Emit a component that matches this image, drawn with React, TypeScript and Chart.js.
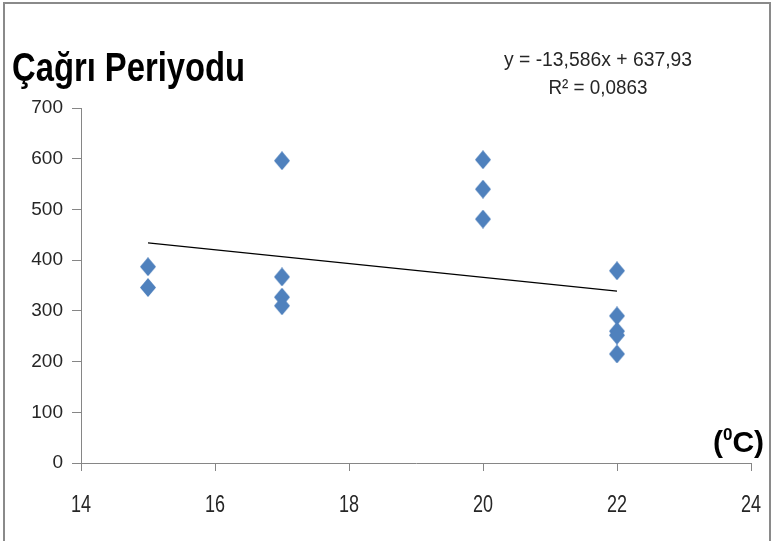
import React, { useEffect, useRef } from "react";
import { Chart, registerables } from "chart.js";

Chart.register(...registerables);

// Data
const temperatures = [15, 15, 17, 17, 17, 17, 20, 20, 20, 22, 22, 22, 22, 22];
const callPeriods = [387, 346, 596, 367, 327, 310, 598, 540, 481, 379, 290, 260, 252, 215];
const trendSlope = -13.586;
const trendIntercept = 637.93;
const trendRange = [15, 22];
const xTickValues = [14, 16, 18, 20, 22, 24];
const yTickValues = [0, 100, 200, 300, 400, 500, 600, 700];

const titleText = "Çağrı Periyodu";
const equationText = "y = -13,586x + 637,93";
const r2Text = "R² = 0,0863";

const FONT = '"Liberation Sans", "DejaVu Sans", sans-serif';
const MARKER_COLOR = "#4F81BD";

function drawFit(ctx: CanvasRenderingContext2D, text: string, x: number, y: number, width: number, align: "left" | "center" | "right") {
  const w = ctx.measureText(text).width;
  const sx = width / w;
  ctx.save();
  let left = x;
  if (align === "center") left = x - width / 2;
  if (align === "right") left = x - width;
  ctx.translate(left, y);
  ctx.scale(sx, 1);
  ctx.textAlign = "left";
  ctx.fillText(text, 0, 0);
  ctx.restore();
}

function makeDiamond(): HTMLCanvasElement {
  const c = document.createElement("canvas");
  const w = 16;
  const h = 19;
  c.width = w;
  c.height = h;
  const g = c.getContext("2d")!;
  g.fillStyle = MARKER_COLOR;
  g.beginPath();
  g.moveTo(w / 2, 0);
  g.lineTo(w, h / 2);
  g.lineTo(w / 2, h);
  g.lineTo(0, h / 2);
  g.closePath();
  g.fill();
  return c;
}

const extrasPlugin = {
  id: "extras",
  beforeDraw(chart: any) {
    const ctx = chart.ctx as CanvasRenderingContext2D;
    ctx.save();
    ctx.fillStyle = "#ffffff";
    ctx.fillRect(0, 0, chart.width, chart.height);
    ctx.strokeStyle = "#8a8a8a";
    ctx.lineWidth = 2;
    ctx.beginPath();
    ctx.moveTo(4, chart.height + 5);
    ctx.lineTo(4, 3);
    ctx.lineTo(770, 3);
    ctx.lineTo(770, chart.height + 5);
    ctx.stroke();
    ctx.restore();
  },
  afterDraw(chart: any) {
    const ctx = chart.ctx as CanvasRenderingContext2D;
    ctx.save();
    ctx.textBaseline = "alphabetic";
    // X tick labels (narrow, as in the reference)
    const xs = chart.scales.x;
    ctx.fillStyle = "#262626";
    ctx.font = `23px ${FONT}`;
    xTickValues.forEach((v) => {
      const px = xs.getPixelForValue(v);
      drawFit(ctx, String(v), px, chart.chartArea.bottom + 49, 20, "center");
    });
    // Title
    ctx.fillStyle = "#000000";
    ctx.font = `bold 40px ${FONT}`;
    drawFit(ctx, titleText, 12, 81, 233, "left");
    // Equation
    ctx.fillStyle = "#262626";
    ctx.font = `20px ${FONT}`;
    drawFit(ctx, equationText, 598, 66, 188, "center");
    drawFit(ctx, r2Text, 598, 94, 99, "center");
    // Unit label (⁰C)
    ctx.fillStyle = "#000000";
    ctx.font = `bold 30px ${FONT}`;
    const baseY = 452;
    let x = 713;
    ctx.textAlign = "left";
    ctx.fillText("(", x, baseY);
    x += ctx.measureText("(").width;
    ctx.font = `bold 17px ${FONT}`;
    ctx.fillText("0", x, baseY - 12);
    x += ctx.measureText("0").width;
    ctx.font = `bold 30px ${FONT}`;
    ctx.fillText("C)", x, baseY);
    ctx.restore();
  },
};

export default function App() {
  const canvasRef = useRef<HTMLCanvasElement | null>(null);

  useEffect(() => {
    const canvas = canvasRef.current;
    if (!canvas) return;
    const diamond = makeDiamond();
    const points = temperatures.map((t, i) => ({ x: t, y: callPeriods[i] }));
    const trend = trendRange.map((t) => ({ x: t, y: trendIntercept + trendSlope * t }));
    const chart = new Chart(canvas, {
      type: "scatter",
      data: {
        datasets: [
          {
            type: "line",
            label: "Trend",
            data: trend,
            borderColor: "#000000",
            borderWidth: 1.3,
            pointRadius: 0,
            fill: false,
          } as any,
          {
            label: "Çağrı Periyodu",
            data: points,
            pointStyle: diamond,
            pointRadius: 8,
            pointHoverRadius: 8,
            backgroundColor: MARKER_COLOR,
            borderColor: MARKER_COLOR,
          },
        ],
      },
      options: {
        animation: false,
        responsive: true,
        maintainAspectRatio: false,
        layout: { padding: { left: 0, top: 108, right: 23, bottom: 0 } },
        plugins: {
          legend: { display: false },
          title: { display: false },
          tooltip: { enabled: false },
        },
        scales: {
          x: {
            type: "linear",
            min: 14,
            max: 24,
            afterBuildTicks: (scale: any) => {
              scale.ticks = xTickValues.map((v) => ({ value: v }));
            },
            afterFit: (scale: any) => {
              scale.height = 78;
            },
            ticks: {
              display: false,
            },
            grid: {
              drawOnChartArea: false,
              drawTicks: true,
              tickLength: 8,
              color: "#868686",
            },
            border: { display: true, color: "#868686", width: 1 },
          },
          y: {
            type: "linear",
            min: 0,
            max: 700,
            afterBuildTicks: (scale: any) => {
              scale.ticks = yTickValues.map((v) => ({ value: v }));
            },
            afterFit: (scale: any) => {
              scale.width = 81;
            },
            ticks: {
              color: "#262626",
              font: { family: FONT, size: 19 },
              padding: 9,
            },
            grid: {
              drawOnChartArea: false,
              drawTicks: true,
              tickLength: 9,
              color: "#868686",
            },
            border: { display: true, color: "#868686", width: 1 },
          },
        },
      },
      plugins: [extrasPlugin],
    } as any);
    return () => chart.destroy();
  }, []);

  return (
    <div style={{ position: "absolute", left: 0, top: 0, width: 774, height: 541 }}>
      <canvas ref={canvasRef} />
    </div>
  );
}
